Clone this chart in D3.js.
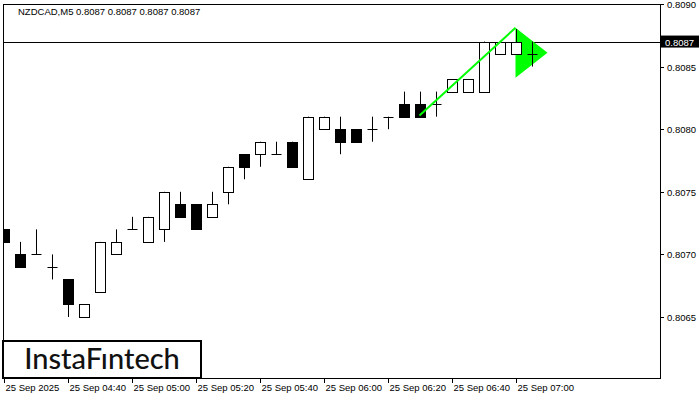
<!DOCTYPE html>
<html><head><meta charset="utf-8">
<script src="https://cdn.jsdelivr.net/npm/d3@7"></script>
<style>body{margin:0;background:#fff}svg{display:block;font-family:"Liberation Sans",Arial,sans-serif}</style>
</head><body><svg id="c" width="700" height="400"></svg>
<script>
const opens  =[0.8072,0.8070,0.8070,0.8069,0.8068,0.8065,0.8067,0.8070,0.8072,0.8071,0.8072,0.8074,0.8074,0.8073,0.8075,0.8078,0.8078,0.8078,0.8079,0.8076,0.8080,0.8080,0.8080,0.8080,0.8081,0.8082,0.8082,0.8082,0.8083,0.8083,0.8083,0.8086,0.8086,0.8086];
const highs  =[0.8072,0.8071,0.8072,0.8070,0.8068,0.8066,0.8071,0.8072,0.8073,0.8073,0.8075,0.8075,0.8074,0.8075,0.8077,0.8078,0.8079,0.8079,0.8079,0.8081,0.8081,0.8081,0.8080,0.8081,0.8081,0.8083,0.8083,0.8083,0.8084,0.8084,0.8087,0.8087,0.8088,0.8087];
const lows   =[0.8071,0.8069,0.8070,0.8068,0.8065,0.8065,0.8067,0.8070,0.8072,0.8071,0.8071,0.8073,0.8072,0.8073,0.8074,0.8076,0.8077,0.8078,0.8077,0.8076,0.8080,0.8078,0.8079,0.8079,0.8080,0.8081,0.8081,0.8081,0.8083,0.8083,0.8083,0.8086,0.8086,0.8085];
const closes =[0.8071,0.8069,0.8070,0.8069,0.8066,0.8066,0.8071,0.8071,0.8072,0.8073,0.8075,0.8073,0.8072,0.8074,0.8077,0.8077,0.8079,0.8078,0.8077,0.8081,0.8081,0.8079,0.8079,0.8080,0.8081,0.8081,0.8081,0.8082,0.8084,0.8084,0.8087,0.8087,0.8087,0.8086];
const priceTicks=[0.8065,0.8070,0.8075,0.8080,0.8085,0.8090];
const timeTickIdx=[0,4,8,12,16,20,24,28,32];
const timeLabels=["25 Sep 2025","25 Sep 04:40","25 Sep 05:00","25 Sep 05:20","25 Sep 05:40","25 Sep 06:00","25 Sep 06:20","25 Sep 06:40","25 Sep 07:00"];
const lastPrice=0.8087;
const trendLine=[{i:26,p:0.80811},{i:32,p:0.80881}];
const pennant=[{i:32,p:0.80881},{i:32,p:0.80841},{i:34,p:0.80861}];

const svg=d3.select("#c");
const L=3,R=660,T=4,B=378;
const x=d3.scaleLinear().domain([0,1]).range([3.5,19.5]);
const y=d3.scaleLinear().domain([0.8065,0.8090]).range([317,4]);
svg.append("clipPath").attr("id","cp").append("rect").attr("x",L).attr("y",T).attr("width",R-L).attr("height",B-T);
const pg=svg.append("g").attr("clip-path","url(#cp)");
pg.append("line").attr("x1",L).attr("x2",R).attr("y1",Math.round(y(lastPrice))+0.5).attr("y2",Math.round(y(lastPrice))+0.5).attr("stroke","#000");
pg.append("path").attr("d",d3.line().x(d=>x(d.i)).y(d=>y(d.p))(pennant)).attr("fill","#00ff00");
const data=opens.map((o,i)=>({i,o,h:highs[i],l:lows[i],c:closes[i]}));
const cg=pg.selectAll("g.k").data(data).join("g");
cg.append("line").attr("x1",d=>Math.round(x(d.i))+0.5).attr("x2",d=>Math.round(x(d.i))+0.5)
 .attr("y1",d=>y(d.h)).attr("y2",d=>y(d.l)).attr("stroke","#000");
cg.each(function(d){
  const s=d3.select(this), cx=Math.round(x(d.i))+0.5;
  if(Math.abs(d.o-d.c)<1e-6){
    s.append("line").attr("x1",cx-5).attr("x2",cx+5).attr("y1",Math.round(y(d.o))+0.5).attr("y2",Math.round(y(d.o))+0.5).attr("stroke","#000");
  } else {
    const top=Math.round(y(Math.max(d.o,d.c)))+0.5, bot=Math.round(y(Math.min(d.o,d.c)))+0.5;
    s.append("rect").attr("x",cx-5).attr("y",top).attr("width",10).attr("height",bot-top)
     .attr("fill",d.c<d.o?"#000":"#fff").attr("stroke","#000");
  }
});
pg.append("path").attr("d",d3.line().x(d=>x(d.i)).y(d=>y(d.p))(trendLine)).attr("stroke","#00ff00").attr("stroke-width",2).attr("fill","none");
svg.append("rect").attr("x",L+0.5).attr("y",T+0.5).attr("width",R-L).attr("height",B-T).attr("fill","none").attr("stroke","#000");
const ra=svg.append("g").attr("font-size",9.5);
priceTicks.forEach(p=>{
  ra.append("line").attr("x1",R).attr("x2",R+4).attr("y1",Math.round(y(p))+0.5).attr("y2",Math.round(y(p))+0.5).attr("stroke","#000");
  ra.append("text").attr("x",R+7).attr("y",y(p)+4).text(p.toFixed(4));
});
ra.append("rect").attr("x",R+1).attr("y",y(lastPrice)-6).attr("width",38).attr("height",12).attr("fill","#000");
ra.append("text").attr("x",R+5).attr("y",y(lastPrice)+4).attr("fill","#fff").text(lastPrice.toFixed(4));
const ba=svg.append("g").attr("font-size",9.5);
timeTickIdx.forEach((ti,k)=>{
  const tx=Math.round(x(ti))+0.5;
  ba.append("line").attr("x1",tx).attr("x2",tx).attr("y1",B).attr("y2",B+5).attr("stroke","#000");
  ba.append("text").attr("x",tx+1).attr("y",391).text(timeLabels[k]);
});
svg.append("text").attr("x",18).attr("y",15).attr("font-size",9.5).text("NZDCAD,M5  0.8087 0.8087 0.8087 0.8087");
svg.append("rect").attr("x",3).attr("y",341).attr("width",198).attr("height",37).attr("fill","#fff").attr("stroke","#000").attr("stroke-width",2);
svg.append("text").attr("x",102).attr("y",369).attr("text-anchor","middle").attr("font-size",29).attr("font-family","Lato, 'Open Sans', sans-serif").attr("font-weight",500).attr("fill","#111").text("InstaFıntech");
</script></body></html>
